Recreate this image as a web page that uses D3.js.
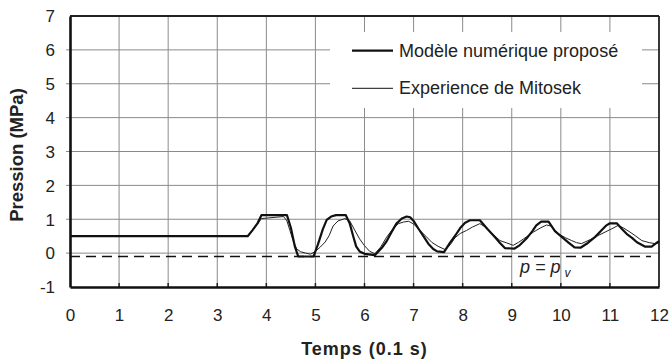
<!DOCTYPE html>
<html>
<head>
<meta charset="utf-8">
<script src="https://cdn.jsdelivr.net/npm/d3@7"></script>
<style>
  html, body { margin: 0; padding: 0; background: #fff; }
  svg { display: block; font-family: "Liberation Sans", Arial, sans-serif; }
</style>
</head>
<body>
<svg id="chart" width="670" height="360"></svg>
<script>
// Axis ticks
const xTicks = [0, 1, 2, 3, 4, 5, 6, 7, 8, 9, 10, 11, 12];
const yTicks = [-1, 0, 1, 2, 3, 4, 5, 6, 7];

// Vapour pressure threshold (MPa)
const vapourPressure = -0.1;

// Proposed numerical model: time (0.1 s) and pressure (MPa)
const modelTime = [0, 3.62, 3.72, 3.82, 3.9, 4.42, 4.5, 4.58, 4.65, 4.96, 5.05, 5.15, 5.23, 5.32, 5.42, 5.62, 5.7, 5.77, 5.83, 5.9, 6.0, 6.21, 6.35, 6.45, 6.55, 6.65, 6.76, 6.86, 6.93, 7.0, 7.1, 7.2, 7.3, 7.4, 7.48, 7.62, 7.74, 7.85, 7.95, 8.05, 8.15, 8.35, 8.5, 8.66, 8.76, 8.86, 9.05, 9.15, 9.3, 9.42, 9.5, 9.6, 9.75, 9.88, 10.0, 10.15, 10.28, 10.4, 10.55, 10.7, 10.82, 10.93, 11.0, 11.14, 11.24, 11.34, 11.45, 11.55, 11.72, 11.85, 11.95, 12.0];
const modelPressure = [0.5, 0.5, 0.68, 0.88, 1.12, 1.12, 0.75, 0.2, -0.1, -0.1, 0.25, 0.7, 0.98, 1.08, 1.12, 1.12, 0.87, 0.5, 0.2, 0.05, -0.02, -0.06, 0.15, 0.35, 0.62, 0.87, 1.02, 1.08, 1.06, 0.95, 0.72, 0.5, 0.28, 0.12, 0.05, 0.03, 0.3, 0.52, 0.74, 0.9, 0.97, 0.97, 0.72, 0.47, 0.3, 0.15, 0.13, 0.22, 0.43, 0.65, 0.82, 0.93, 0.93, 0.65, 0.5, 0.32, 0.17, 0.16, 0.3, 0.48, 0.66, 0.82, 0.88, 0.88, 0.72, 0.57, 0.45, 0.32, 0.19, 0.19, 0.3, 0.35];

// Mitosek experiment: time (0.1 s) and pressure (MPa)
const expTime = [0, 3.62, 3.72, 3.82, 3.9, 4.05, 4.2, 4.35, 4.42, 4.48, 4.55, 4.62, 4.7, 4.8, 4.9, 5.0, 5.1, 5.2, 5.28, 5.36, 5.46, 5.6, 5.7, 5.8, 5.9, 6.0, 6.1, 6.21, 6.33, 6.45, 6.57, 6.69, 6.8, 6.9, 7.0, 7.13, 7.25, 7.37, 7.5, 7.65, 7.75, 7.84, 7.95, 8.08, 8.2, 8.35, 8.45, 8.56, 8.66, 8.76, 8.9, 9.03, 9.14, 9.24, 9.34, 9.44, 9.58, 9.71, 9.8, 9.95, 10.1, 10.22, 10.32, 10.42, 10.6, 10.76, 10.9, 11.04, 11.17, 11.28, 11.41, 11.53, 11.65, 11.8, 11.92, 12.0];
const expPressure = [0.5, 0.5, 0.68, 0.85, 1.02, 1.04, 1.06, 1.08, 0.95, 0.67, 0.35, 0.12, 0.04, 0.0, -0.03, 0.05, 0.18, 0.33, 0.52, 0.8, 0.95, 1.02, 0.95, 0.68, 0.42, 0.22, 0.06, -0.02, 0.18, 0.47, 0.7, 0.87, 0.92, 0.94, 0.86, 0.67, 0.5, 0.32, 0.2, 0.1, 0.25, 0.45, 0.58, 0.67, 0.77, 0.87, 0.78, 0.62, 0.5, 0.37, 0.3, 0.23, 0.32, 0.42, 0.52, 0.62, 0.74, 0.83, 0.8, 0.57, 0.45, 0.37, 0.31, 0.28, 0.4, 0.52, 0.62, 0.72, 0.82, 0.74, 0.62, 0.5, 0.37, 0.31, 0.28, 0.3];

const legendLabels = ["Modèle numérique proposé", "Experience de Mitosek"];

const svg = d3.select("#chart");
const margin = { left: 70, top: 16, right: 11, bottom: 73 };
const W = 670 - margin.left - margin.right;
const H = 360 - margin.top - margin.bottom;

const x = d3.scaleLinear().domain([0, 12]).range([0, W]);
const y = d3.scaleLinear().domain([-1, 7]).range([H, 0]);

const g = svg.append("g").attr("transform", `translate(${margin.left},${margin.top})`);

// Grid lines
const gridColor = "#8a8a8a";
g.append("g").selectAll("line").data(xTicks.slice(1, -1)).join("line")
  .attr("x1", d => x(d)).attr("x2", d => x(d))
  .attr("y1", 0).attr("y2", H)
  .attr("stroke", gridColor).attr("stroke-width", 1);
g.append("g").selectAll("line").data(yTicks.slice(1, -1)).join("line")
  .attr("x1", -4).attr("x2", W)
  .attr("y1", d => y(d)).attr("y2", d => y(d))
  .attr("stroke", gridColor).attr("stroke-width", 1);

// Short tick marks rising from the time axis
g.append("g").selectAll("line").data(xTicks.slice(1, -1)).join("line")
  .attr("x1", d => x(d)).attr("x2", d => x(d))
  .attr("y1", H).attr("y2", H - 4)
  .attr("stroke", "#222").attr("stroke-width", 1.5);

// Legend background masks the grid
g.append("rect")
  .attr("x", 330 - margin.left).attr("y", 32 - margin.top)
  .attr("width", 312).attr("height", 76)
  .attr("fill", "#fff");

// Frame
g.append("line").attr("x1", 0).attr("x2", W).attr("y1", 0).attr("y2", 0)
  .attr("stroke", "#222").attr("stroke-width", 1.8);
g.append("line").attr("x1", W).attr("x2", W).attr("y1", 0).attr("y2", H)
  .attr("stroke", "#222").attr("stroke-width", 1.8);

// Axes with labels (plain hyphen for negatives)
const fmt = d => String(d);
const xAxis = g.append("g").attr("transform", `translate(0,${H})`)
  .call(d3.axisBottom(x).tickValues(xTicks).tickSize(0).tickPadding(22).tickFormat(fmt));
const yAxis = g.append("g")
  .call(d3.axisLeft(y).tickValues(yTicks).tickSize(0).tickPadding(15).tickFormat(fmt));
[xAxis, yAxis].forEach(a => {
  a.select(".domain").attr("stroke", "#111").attr("stroke-width", 2.6);
  a.selectAll("text").attr("font-size", 17).attr("fill", "#222")
    .attr("font-family", "'Liberation Sans', Arial, sans-serif");
});
yAxis.selectAll("text").attr("dy", "0.34em");

// Vapour pressure threshold
g.append("line")
  .attr("x1", 0).attr("x2", x(12) - 8)
  .attr("y1", y(vapourPressure)).attr("y2", y(vapourPressure))
  .attr("stroke", "#111").attr("stroke-width", 1.6)
  .attr("stroke-dasharray", "10,6");

// Curves
const line = d3.line().x(d => x(d[0])).y(d => y(d[1]));
const expPts = d3.zip(expTime, expPressure);
const modelPts = d3.zip(modelTime, modelPressure);
g.append("path").datum(expPts).attr("d", line)
  .attr("fill", "none").attr("stroke", "#222").attr("stroke-width", 1)
  .attr("stroke-linejoin", "round");
g.append("path").datum(modelPts).attr("d", line)
  .attr("fill", "none").attr("stroke", "#111").attr("stroke-width", 2.2)
  .attr("stroke-linejoin", "round");

// Threshold label p = p_v
const pl = svg.append("text")
  .attr("x", 520).attr("y", 273)
  .attr("font-size", 18).attr("font-style", "italic").attr("fill", "#222")
  .attr("xml:space", "preserve");
pl.append("tspan").text("p = p");
pl.append("tspan").attr("font-size", 12).attr("dy", 4).attr("dx", 4).text("v");

// Legend
const legendRows = [
  { label: legendLabels[0], y: 50.7, w: 2.2 },
  { label: legendLabels[1], y: 88.3, w: 1 }
];
legendRows.forEach(r => {
  svg.append("line").attr("x1", 352).attr("x2", 393)
    .attr("y1", r.y).attr("y2", r.y)
    .attr("stroke", "#111").attr("stroke-width", r.w);
  svg.append("text").attr("x", 399).attr("y", r.y + 5.8)
    .attr("font-size", 18).attr("fill", "#222").text(r.label);
});

// Axis titles
svg.append("text")
  .attr("x", margin.left + W / 2).attr("y", 355)
  .attr("text-anchor", "middle").attr("font-size", 18).attr("font-weight", "bold")
  .attr("letter-spacing", 1).attr("fill", "#222")
  .text("Temps (0.1 s)");
svg.append("text")
  .attr("transform", `translate(23,155) rotate(-90)`)
  .attr("text-anchor", "middle").attr("font-size", 18.5).attr("font-weight", "bold")
  .attr("fill", "#222")
  .text("Pression (MPa)");
</script>
</body>
</html>
